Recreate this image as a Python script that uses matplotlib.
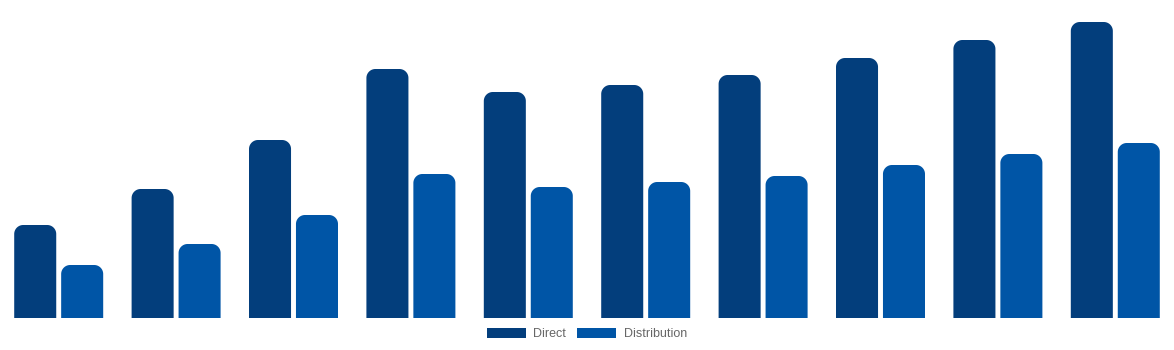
import matplotlib.pyplot as plt
import numpy as np
from matplotlib.patches import Polygon, Patch

# data definition
categories = ['1', '2', '3', '4', '5', '6', '7', '8', '9', '10']
direct = [93, 129, 178, 249, 226, 233, 243, 260, 278, 296]
distribution = [53, 74, 103, 144, 131, 136, 142, 153, 164, 175]
series_names = ['Direct', 'Distribution']
colors = ['#033e7c', '#0055a6']

fig = plt.figure(figsize=(11.74, 3.5), dpi=100)
ax = fig.add_axes([0, 32 / 350, 1, 318 / 350])
ax.set_xlim(-0.5, len(categories) - 0.5)
ax.set_ylim(0, 318)
ax.axis('off')

x = np.arange(len(categories))
bar_width = 0.358
offset = 0.2

# px per data unit, used to keep corners round
px_x = 1174 / len(categories)
px_y = 318 / 318
radius_px = 9
rx = radius_px / px_x
ry = radius_px / px_y
t = np.linspace(0, np.pi / 2, 20)


def rounded_top(x0, w, h):
    # quarter circles on the two top corners, square bottom
    left = np.column_stack([x0 + rx - rx * np.cos(t), h - ry + ry * np.sin(t)])
    right = np.column_stack([x0 + w - rx + rx * np.sin(t), h - ry + ry * np.cos(t)])
    pts = np.vstack([[[x0, 0]], left, right, [[x0 + w, 0]]])
    return pts


for idx, vals in enumerate([direct, distribution]):
    pos = x + (offset if idx else -offset)
    bars = ax.bar(pos, vals, width=bar_width, color=colors[idx], alpha=0)
    for b in bars:
        p = Polygon(rounded_top(b.get_x(), b.get_width(), b.get_height()),
                    closed=True, facecolor=colors[idx], edgecolor='none')
        ax.add_patch(p)

handles = [Patch(facecolor=c, edgecolor='none') for c in colors]
fig.legend(handles, series_names, loc='center', bbox_to_anchor=(0.5, 1 - 334 / 350),
           ncol=2, frameon=False, labelcolor='#666666',
           handlelength=3.1, handleheight=0.95, handletextpad=0.6,
           columnspacing=0.9, prop={'family': 'Liberation Sans', 'size': 9})

plt.savefig('out.png', dpi=100)
